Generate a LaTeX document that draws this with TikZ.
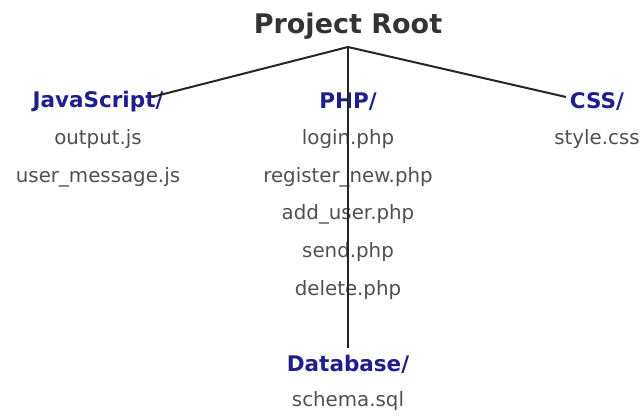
\documentclass[tikz,border=0pt]{standalone}
\usepackage{fontspec}
\setmainfont{DejaVu Sans}
\definecolor{dirblue}{HTML}{1E1E8C}
\definecolor{filegray}{HTML}{505050}
\definecolor{rootgray}{HTML}{333333}
\begin{document}
\begin{tikzpicture}[x=1pt,y=-1pt,
  rootlabel/.style={font=\bfseries\fontsize{27}{31}\selectfont, text=rootgray, inner sep=0pt},
  dirlabel/.style={font=\bfseries\fontsize{21.5}{25}\selectfont, text=dirblue, inner sep=0pt},
  filelabel/.style={font=\fontsize{19.8}{23}\selectfont, text=filegray, inner sep=0pt},
  branch/.style={draw=black!85, line width=2pt}]
\useasboundingbox (0,0) rectangle (644,417);

\node[rootlabel] (root) at (348,26) {Project Root};
\coordinate (apex) at (348,47);

% JavaScript column
\node[dirlabel]  (js)      at (98,102) {JavaScript/};
\node[filelabel] (outjs)   at (98,139) {output.js};
\node[filelabel] (usermsg) at (98,177) {user\_message.js};

% PHP column
\node[dirlabel]  (php)     at (348,102) {PHP/};
\node[filelabel] (login)   at (348,139) {login.php};
\node[filelabel] (regnew)  at (348,177) {register\_new.php};
\node[filelabel] (adduser) at (348,214) {add\_user.php};
\node[filelabel] (send)    at (348,252) {send.php};
\node[filelabel] (delete)  at (348,290) {delete.php};
\node[dirlabel]  (db)      at (348,364) {Database/};
\node[filelabel] (schema)  at (348,401) {schema.sql};

% CSS column
\node[dirlabel]  (css)     at (597,102) {CSS/};
\node[filelabel] (style)   at (597,139) {style.css};

% branches
\coordinate (jsend)  at (152,97);
\coordinate (cssend) at (566,97);
\coordinate (dbtop)  at (348,348);
\draw[branch] (jsend) -- (apex) -- (cssend);
\draw[branch] (apex) -- (dbtop);
\end{tikzpicture}
\end{document}
